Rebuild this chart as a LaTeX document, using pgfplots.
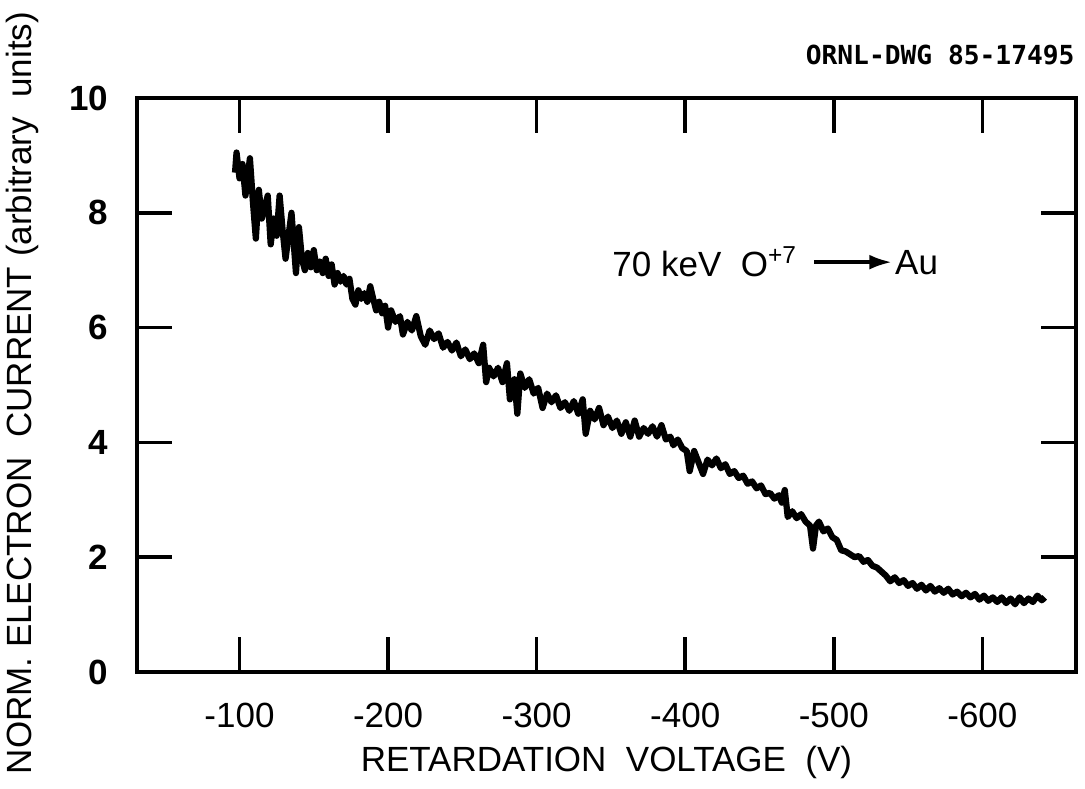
\documentclass[border=0pt]{standalone}
\usepackage{fontspec}
\setmainfont{Liberation Sans}
\newfontfamily\dwgfont{DejaVu Sans Mono}
\usepackage{pgfplots}
\pgfplotsset{compat=1.18}
\usetikzlibrary{arrows.meta}

% retardation voltage (V) vs normalised electron current
\pgfplotstableread{
x y
-97 8.70
-98 9.05
-100 8.60
-102 8.85
-104 8.30
-107 8.95
-109 8.20
-111 7.55
-113 8.40
-115 7.90
-117 8.10
-119 8.30
-121 7.45
-123 7.90
-125 7.60
-127 8.30
-129 7.70
-131 7.20
-133 7.60
-135 8.00
-137 7.30
-138 6.95
-140 7.75
-142 7.20
-144 7.00
-146 7.30
-148 7.05
-150 7.35
-152 7.00
-154 7.15
-156 6.95
-158 7.20
-160 6.90
-162 7.10
-164 6.75
-166 6.95
-168 6.80
-170 6.90
-172 6.75
-174 6.85
-176 6.50
-178 6.40
-180 6.65
-182 6.50
-184 6.60
-186 6.45
-188 6.72
-190 6.50
-192 6.30
-194 6.45
-196 6.25
-198 6.38
-200 6.00
-202 6.30
-205 6.10
-208 6.20
-210 5.88
-213 6.10
-216 5.95
-219 6.20
-222 5.85
-225 5.70
-228 5.95
-231 5.80
-234 5.90
-237 5.65
-240 5.75
-243 5.60
-246 5.74
-249 5.50
-252 5.62
-255 5.45
-258 5.55
-261 5.38
-264 5.70
-266 5.05
-268 5.30
-271 5.15
-274 5.30
-277 5.05
-280 5.38
-282 4.75
-285 5.10
-287 4.50
-289 5.20
-292 4.95
-295 5.10
-298 4.85
-301 4.95
-304 4.60
-307 4.85
-310 4.70
-313 4.82
-316 4.60
-319 4.70
-322 4.55
-325 4.72
-328 4.50
-331 4.75
-333 4.15
-336 4.55
-339 4.40
-342 4.60
-345 4.30
-348 4.45
-351 4.25
-354 4.38
-357 4.15
-360 4.35
-363 4.10
-366 4.38
-369 4.10
-372 4.25
-375 4.15
-378 4.28
-381 4.10
-384 4.30
-387 4.05
-390 4.10
-392 3.95
-395 4.05
-398 3.90
-401 3.85
-403 3.50
-406 3.85
-409 3.65
-412 3.45
-415 3.70
-418 3.60
-421 3.72
-424 3.55
-427 3.62
-430 3.45
-433 3.50
-436 3.38
-439 3.42
-442 3.28
-445 3.32
-448 3.20
-451 3.25
-454 3.10
-457 3.12
-460 3.02
-463 3.08
-465 2.95
-467 3.17
-469 2.70
-472 2.80
-475 2.68
-478 2.75
-481 2.62
-484 2.55
-486 2.15
-488 2.55
-490 2.62
-493 2.45
-496 2.50
-499 2.35
-502 2.30
-505 2.12
-508 2.10
-511 2.05
-514 2.00
-517 2.02
-520 1.92
-523 1.95
-526 1.85
-529 1.82
-532 1.75
-535 1.68
-538 1.58
-541 1.65
-544 1.55
-547 1.60
-550 1.50
-553 1.55
-556 1.45
-559 1.52
-562 1.42
-565 1.50
-568 1.40
-571 1.46
-574 1.38
-577 1.45
-580 1.35
-583 1.40
-586 1.32
-589 1.38
-592 1.30
-595 1.36
-598 1.26
-601 1.33
-604 1.24
-607 1.30
-610 1.22
-613 1.30
-616 1.20
-619 1.28
-622 1.18
-625 1.30
-628 1.20
-631 1.28
-634 1.22
-637 1.33
-640 1.25
-642 1.30
}\scan

\begin{document}
\begin{tikzpicture}
\begin{axis}[
    name=ax,
    scale only axis,
    width=375.6pt,
    height=229.6pt,
    x dir=reverse,
    xmin=-663, xmax=-31,
    ymin=0, ymax=10,
    xtick={-100,-200,-300,-400,-500,-600},
    xticklabels={-100,-200,-300,-400,-500,-600},
    ytick={0,2,4,6,8,10},
    tick align=inside,
    major tick length=14pt,
    axis line style={line width=1.4pt},
    tick style={black, line width=1.4pt},
    /pgf/number format/assume math mode=true,
    xticklabel style={font=\fontsize{14}{16}\selectfont, yshift=-9pt},
    yticklabel style={font=\bfseries\fontsize{14}{16}\selectfont, xshift=-8pt},
    xlabel={RETARDATION\ \ VOLTAGE\ \ (V)},
    ylabel={NORM. ELECTRON\ \ CURRENT (arbitrary\ \ units)},
    xlabel style={at={(axis description cs:0.5,-0.157)}, anchor=center,
        font=\fontsize{14}{16}\selectfont},
    ylabel style={at={(axis description cs:-0.122,0.486)}, anchor=center,
        font=\fontsize{14}{16}\selectfont},
]
\addplot[black, line width=2.5pt, line join=round] table {\scan};

\node[anchor=west, font=\fontsize{14}{16}\selectfont, inner sep=0pt]
    at (axis cs:-350.7,7.14) {70 keV\ \ O\textsuperscript{+7}};
\draw[line width=1.4pt, -{Latex[length=9pt,width=6pt]}]
    (axis cs:-487,7.14) -- (axis cs:-539,7.14);
\node[anchor=west, font=\fontsize{14}{16}\selectfont, inner sep=0pt]
    at (axis cs:-541,7.14) {Au};
\end{axis}

\node[anchor=east, inner sep=0pt, font=\dwgfont\bfseries\fontsize{10.5}{13}\selectfont]
    at (375.2pt,246.8pt) {ORNL-DWG 85-17495};

\pgfresetboundingbox
\path (-54.8pt,-46.8pt) rectangle (379.2pt,268.8pt);
\end{tikzpicture}
\end{document}
